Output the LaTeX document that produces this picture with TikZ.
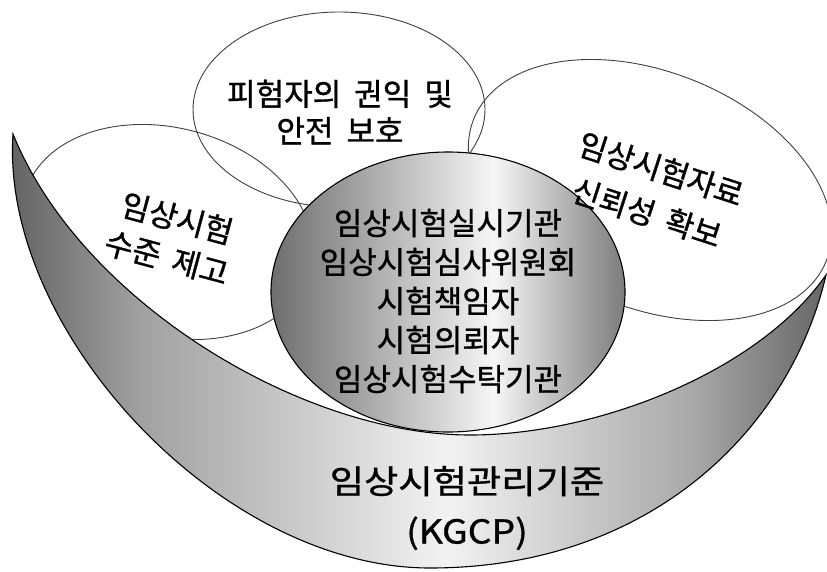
\documentclass[tikz,border=0pt]{standalone}
\usepackage{fontspec}
\newfontfamily\kr[FakeBold=1]{Noto Sans CJK KR}
\newfontfamily\krwide[FakeStretch=1.13,FakeBold=1]{Noto Sans CJK KR}
\definecolor{bowlL}{HTML}{5E5E5E}
\definecolor{bowlA}{HTML}{A0A0A0}
\definecolor{bowlM}{HTML}{F2F2F2}
\definecolor{bowlB}{HTML}{A8A8A8}
\definecolor{bowlR}{HTML}{666666}
\definecolor{circL}{HTML}{6E6E6E}
\definecolor{circM}{HTML}{F6F6F6}
\definecolor{circR}{HTML}{7C7C7C}
\pgfdeclarehorizontalshading{bowlshade}{100bp}{color(0bp)=(bowlL); color(25bp)=(bowlL); color(33.4bp)=(bowlA); color(52bp)=(bowlM); color(67bp)=(bowlB); color(75bp)=(bowlR); color(100bp)=(bowlR)}
\pgfdeclarehorizontalshading{circshade}{100bp}{color(0bp)=(circL); color(25bp)=(circL); color(56.5bp)=(circM); color(75bp)=(circR); color(100bp)=(circR)}
\begin{document}
\begin{tikzpicture}[x=1pt,y=-1pt,
  ellfill/.style={fill=white},
  elldraw/.style={draw=black!75, line width=0.9pt},
  rim/.style={draw=black, line width=1.1pt},
  lbl/.style={align=center, inner sep=0pt, text=black},
]
\useasboundingbox (0,0) rectangle (827,571);
\clip (0,0) rectangle (827,571);
% white fills of the three ellipses
\path[ellfill, rotate around={-15:(168,232)}] (168,232) ellipse [x radius=148, y radius=104];
\path[ellfill] (339,109.5) ellipse [x radius=146, y radius=97.5];
\path[ellfill, rotate around={-22:(650,190)}] (650,190) ellipse [x radius=190, y radius=118];
% outlines
\path[elldraw, rotate around={-15:(168,232)}] (168,232) ellipse [x radius=148, y radius=104];
\path[elldraw] (339,109.5) ellipse [x radius=146, y radius=97.5];
\path[elldraw, rotate around={-22:(650,190)}] (650,190) ellipse [x radius=190, y radius=118];
% centre disc
\path[shading=circshade, rim] (448,292) ellipse [x radius=177, y radius=140];
% bowl
\path[shading=bowlshade, rim]
  (13,134) .. controls (0,330) and (220,568) .. (430,568)
  .. controls (650,568) and (790,430) .. (826,275)
  .. controls (760,370) and (600,435) .. (470,435)
  .. controls (300,435) and (80,300) .. (13,134) -- cycle;
% texts
\node[lbl, rotate=-15, font={\kr\fontsize{31}{41}\selectfont\spaceskip=.4em}] (lefttxt) at (172,238) {임상시험\\수준 제고};
\node[lbl, font={\kr\fontsize{31}{37}\selectfont\spaceskip=.42em}] (toptxt) at (340,112) {피험자의 권익 및\\안전 보호};
\node[lbl, rotate=-18, font={\kr\fontsize{31}{46}\selectfont\spaceskip=.4em}] (righttxt) at (654,191) {임상시험자료\\신뢰성 확보};
\node[lbl, font={\kr\fontsize{31}{39}\selectfont}] (centretxt) at (448,301) {임상시험실시기관\\임상시험심사위원회\\시험책임자\\시험의뢰자\\임상시험수탁기관};
\node[lbl, font={\krwide\fontsize{33}{50}\selectfont}] (bottomtxt) at (467,508) {임상시험관리기준\\(KGCP)};
\end{tikzpicture}
\end{document}
